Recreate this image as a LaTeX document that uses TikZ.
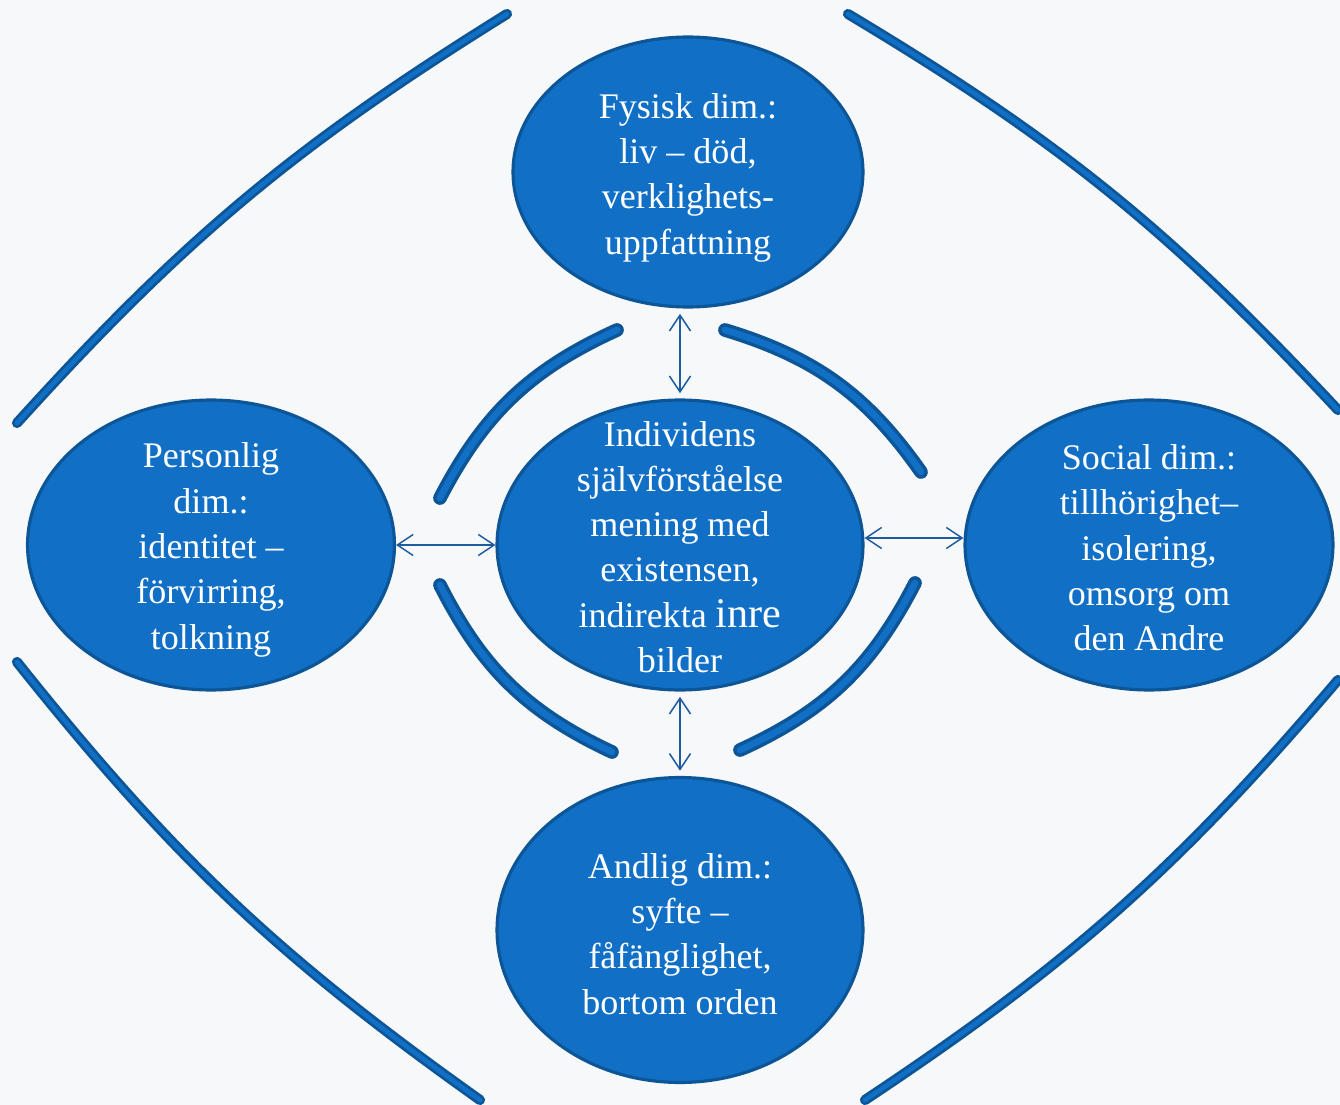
\documentclass[tikz,border=0pt]{standalone}
\usepackage{fontspec}
\setmainfont{Liberation Serif}
\usetikzlibrary{arrows.meta,shapes.geometric}
\definecolor{bg}{HTML}{F7F8FA}
\definecolor{ellfill}{HTML}{1170C6}
\definecolor{elldraw}{HTML}{0C5596}
\definecolor{arrowc}{HTML}{1F5C9E}
\begin{document}
\begin{tikzpicture}[x=0.02cm,y=-0.02cm,
  dimnode/.style={ellipse, fill=ellfill, draw=elldraw, line width=1.8pt, inner sep=0pt},
  lbl/.style={text=white, align=center, font=\fontsize{20.5}{25.8}\selectfont, inner sep=0pt},
  link/.style={draw=arrowc, line width=0.85pt,
    {Straight Barb[length=9pt,width=12pt]}-{Straight Barb[length=9pt,width=12pt]}},
  outerbrush/.style={draw=elldraw, double=ellfill, line width=1.6pt, double distance=2.6pt, line cap=round},
  innerbrush/.style={draw=elldraw, double=ellfill, line width=2pt, double distance=3.8pt, line cap=round}]

\fill[bg] (0,0) rectangle (1340,1105);
\useasboundingbox (0,0) rectangle (1340,1105);
\clip (0,0) rectangle (1340,1105);

% outer brush strokes
\coordinate (o1a) at (507,14);   \coordinate (o1b) at (17,423);
\coordinate (o2a) at (848,14);   \coordinate (o2b) at (1338,410);
\coordinate (o3a) at (17,662);   \coordinate (o3b) at (480,1100);
\coordinate (o4a) at (865,1100); \coordinate (o4b) at (1338,680);
\draw[outerbrush] (o1a) to[bend right=8] (o1b);
\draw[outerbrush] (o2a) to[bend left=8] (o2b);
\draw[outerbrush] (o3a) to[bend right=8] (o3b);
\draw[outerbrush] (o4a) to[bend right=8] (o4b);

% inner brush strokes
\coordinate (i1a) at (617,330); \coordinate (i1b) at (440,498);
\coordinate (i2a) at (725,330); \coordinate (i2b) at (921,472);
\coordinate (i3a) at (440,585); \coordinate (i3b) at (612,752);
\coordinate (i4a) at (915,583); \coordinate (i4b) at (740,750);
\draw[innerbrush] (i1a) to[bend right=19] (i1b);
\draw[innerbrush] (i2a) to[bend left=19] (i2b);
\draw[innerbrush] (i3a) to[bend right=19] (i3b);
\draw[innerbrush] (i4a) to[bend left=19] (i4b);

% ellipses
\node[dimnode, minimum width=7.0cm, minimum height=5.4cm] (top) at (688,172) {};
\node[dimnode, minimum width=7.32cm, minimum height=5.8cm] (ctr) at (680,545) {};
\node[dimnode, minimum width=7.34cm, minimum height=5.8cm] (lft) at (211,545) {};
\node[dimnode, minimum width=7.36cm, minimum height=5.8cm] (rgt) at (1149,545) {};
\node[dimnode, minimum width=7.32cm, minimum height=6.1cm] (bot) at (680,930) {};

% texts
\node[lbl] (toptxt) at ([yshift=-0.11cm]top.center) {Fysisk dim.:\\liv – död,\\verklighets-\\uppfattning};
\node[lbl] (ctrtxt) at ([yshift=-0.04cm]ctr.center) {Individens\\självförståelse\\mening med\\existensen,\\indirekta {\fontsize{24}{25.8}\selectfont inre}\\bilder};
\node[lbl] (lfttxt) at ([yshift=-0.1cm]lft.center) {Personlig\\dim.:\\identitet –\\förvirring,\\tolkning};
\node[lbl] (rgttxt) at ([yshift=-0.06cm]rgt.center) {Social dim.:\\tillhörighet–\\isolering,\\omsorg om\\den Andre};
\node[lbl] (bottxt) at ([yshift=-0.08cm]bot.center) {Andlig dim.:\\syfte –\\fåfänglighet,\\bortom orden};

% connectors
\draw[link, shorten <=3pt, shorten >=3pt] (ctr.north) -- (ctr.north |- top.south);
\draw[link, shorten <=3pt, shorten >=3pt] (ctr.south) -- (ctr.south |- bot.north);
\draw[link] (lft.east) -- (ctr.west);
\path (ctr.east) ++(0,-7) coordinate (ra);
\draw[link] (ra) -- (ra -| rgt.west);
\end{tikzpicture}
\end{document}
